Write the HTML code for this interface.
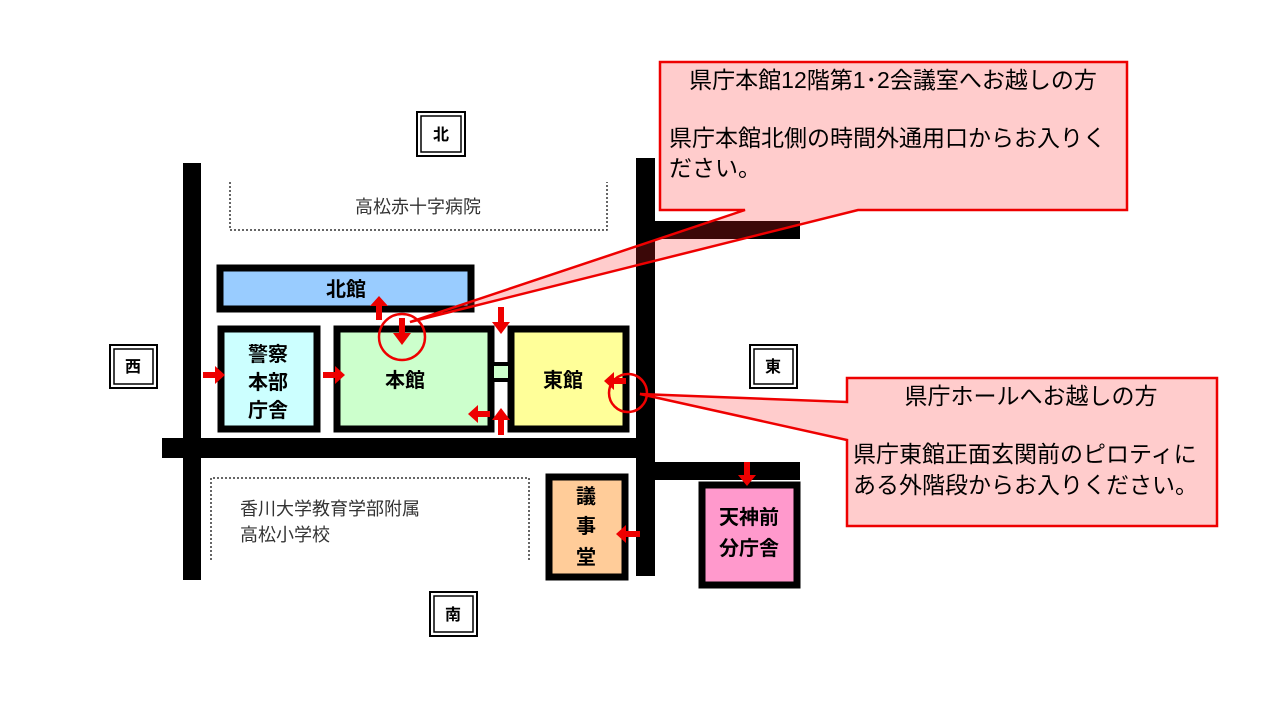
<!DOCTYPE html>
<html><head><meta charset="utf-8"><style>
html,body{margin:0;padding:0;background:#fff;}
svg{display:block}
text{font-family:"Liberation Sans","Noto Sans CJK JP",sans-serif;}
</style></head><body>
<svg width="1280" height="720" viewBox="0 0 1280 720" xmlns="http://www.w3.org/2000/svg">
<rect width="1280" height="720" fill="#fff"/>
<!-- roads -->
<rect x="183" y="163" width="18" height="417" fill="#000"/>
<rect x="162" y="438" width="493" height="20" fill="#000"/>
<rect x="636" y="158" width="19" height="418" fill="#000"/>
<rect x="655" y="221" width="145" height="18" fill="#000"/>
<rect x="655" y="462" width="145" height="18" fill="#000"/>
<!-- dotted areas -->
<path d="M230 182 V230 H607 V182" fill="none" stroke="#333" stroke-width="1.5" stroke-dasharray="2,2"/>
<text x="418" y="213" font-size="18" fill="#333" text-anchor="middle" font-family="Liberation Serif,Noto Serif CJK SC,serif">高松赤十字病院</text>
<path d="M211 560 V478 H529 V560" fill="none" stroke="#333" stroke-width="1.5" stroke-dasharray="2,2"/>
<text x="240" y="515" font-size="18" fill="#333" font-family="Liberation Serif,Noto Serif CJK SC,serif">香川大学教育学部附属</text>
<text x="240" y="541" font-size="18" fill="#333" font-family="Liberation Serif,Noto Serif CJK SC,serif">高松小学校</text>
<!-- compass boxes -->
<g fill="#fff" stroke="#000">
<rect x="417" y="112" width="48" height="44" stroke-width="2"/><rect x="421" y="116" width="40" height="36" stroke-width="1.5"/>
<rect x="110" y="345" width="47" height="43" stroke-width="2"/><rect x="114" y="349" width="39" height="35" stroke-width="1.5"/>
<rect x="750" y="345" width="47" height="43" stroke-width="2"/><rect x="754" y="349" width="39" height="35" stroke-width="1.5"/>
<rect x="430" y="592" width="47" height="44" stroke-width="2"/><rect x="434" y="596" width="39" height="36" stroke-width="1.5"/>
</g>
<g font-size="16" font-weight="bold" text-anchor="middle" fill="#000">
<text x="441" y="140">北</text><text x="133" y="372">西</text><text x="773" y="372">東</text><text x="453" y="620">南</text>
</g>
<!-- buildings -->
<g stroke="#000" stroke-width="7">
<rect x="220" y="268" width="251" height="41" fill="#99ccff"/>
<rect x="221" y="329" width="96" height="100" fill="#ccffff"/>
<rect x="337" y="329" width="154" height="100" fill="#ccffcc"/>
<rect x="511" y="329" width="115" height="100" fill="#ffff99"/>
<rect x="549" y="477" width="76" height="100" fill="#ffcc99"/>
<rect x="702" y="485" width="95" height="100" fill="#ff99cc"/>
</g>
<rect x="494" y="366" width="14" height="12" fill="#ccffcc"/>
<rect x="494" y="362" width="14" height="4" fill="#000"/><rect x="494" y="378" width="14" height="4" fill="#000"/>
<g font-size="20" font-weight="bold" text-anchor="middle" fill="#000">
<text x="346" y="296">北館</text>
<text x="405" y="387">本館</text>
<text x="563" y="387">東館</text>
<text x="268" y="361">警察</text><text x="268" y="389">本部</text><text x="268" y="417">庁舎</text>
<text x="586" y="503">議</text><text x="586" y="533">事</text><text x="586" y="564">堂</text>
<text x="749" y="524">天神前</text><text x="749" y="555">分庁舎</text>
</g>
<!-- red arrows -->
<g fill="#ee0000">
<path d="M203 372 h12 v-6 l10 9 l-10 9 v-6 h-12z"/>
<path d="M323 372 h12 v-6 l10 9 l-10 9 v-6 h-12z"/>
<path d="M376 320 v-14 h-6 l9 -10 l9 10 h-6 v14z"/>
<path d="M399 318 h6 v15 h6 l-9 12 l-9 -12 h6z"/>
<path d="M498 307 h6 v15 h6 l-9 12 l-9 -12 h6z"/>
<path d="M498 435 v-15 h-6 l9 -12 l9 12 h-6 v15z"/>
<path d="M490 411 h-12 v-6 l-10 9 l10 9 v-6 h12z"/>
<path d="M626 378 h-12 v-6 l-10 9 l10 9 v-6 h12z"/>
<path d="M640 531 h-14 v-6 l-10 9 l10 9 v-6 h14z"/>
<path d="M744 462 h6 v13 h6 l-9 11 l-9 -11 h6z"/>
</g>
<circle cx="402" cy="337" r="23" fill="none" stroke="#ee0000" stroke-width="2.5"/>
<circle cx="628" cy="393" r="19" fill="none" stroke="#ee0000" stroke-width="2.5"/>
<!-- callout 1 -->
<path d="M660 62 H1127 V210 H858 L410 322 L745 210 H660 Z" fill="#ff2222" fill-opacity="0.23" stroke="#ee0000" stroke-width="2.5"/>
<!-- callout 2 -->
<path d="M847 378 H1217 V526 H847 V440 L640 394 L847 402 Z" fill="#ff2222" fill-opacity="0.23" stroke="#ee0000" stroke-width="2.5"/>
<g font-size="23" fill="#000">
<text x="893" y="88" text-anchor="middle">県庁本館12階第1･2会議室へお越しの方</text>
<text x="669" y="146">県庁本館北側の時間外通用口からお入りく</text>
<text x="669" y="176">ださい。</text>
<text x="1031" y="404" text-anchor="middle">県庁ホールへお越しの方</text>
<text x="853" y="462">県庁東館正面玄関前のピロティに</text>
<text x="853" y="493">ある外階段からお入りください。</text>
</g>
</svg>
</body></html>
